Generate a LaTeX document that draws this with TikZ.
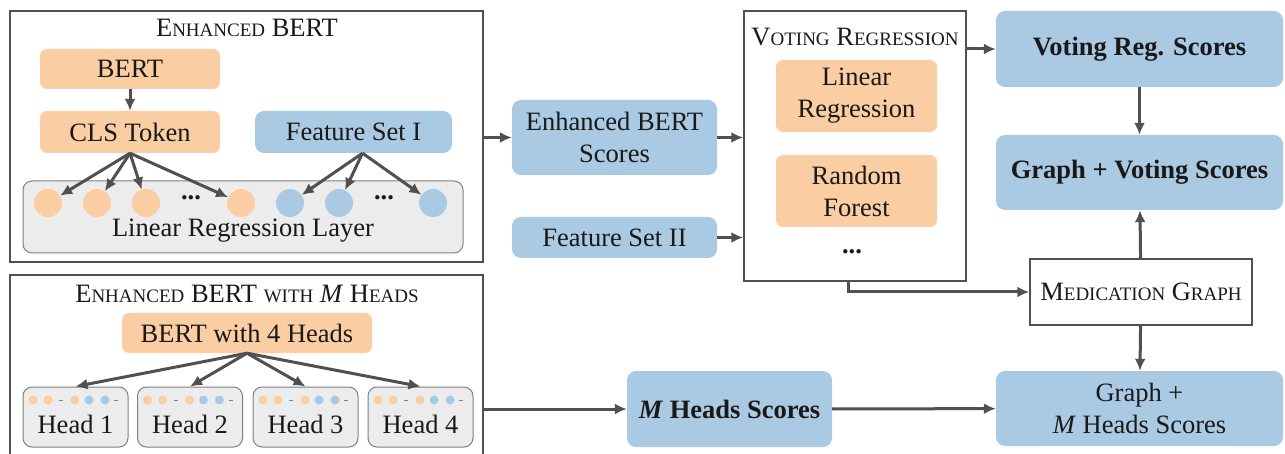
\documentclass[tikz,border=0pt]{standalone}
\usepackage{fontspec}
\setmainfont{Liberation Serif}
\usetikzlibrary{arrows,arrows.meta,positioning}
\definecolor{orng}{RGB}{251,205,162}
\definecolor{bleu}{RGB}{170,202,227}
\definecolor{gris}{RGB}{236,236,236}
\definecolor{trait}{RGB}{80,80,80}
\definecolor{encre}{RGB}{25,25,25}
\newcommand\fsc[1]{{\fontsize{19}{19}\selectfont\uppercase{#1}}}

\begin{document}
\begin{tikzpicture}[x=1pt,y=-1pt,font=\fontsize{26.5}{32}\selectfont,text=encre,>={Latex[length=12pt,width=11pt]}]%
        \useasboundingbox (0,0) rectangle (1285,454);%%
        % frames
        \node[draw=trait,line width=1.5pt,minimum width=473,minimum height=251] (eb) at (246.5,136.5) {}; %%
        \draw[trait,line width=1.5pt] (10,454) -- (10,275) -- (483,275) -- (483,454); %%
        \coordinate (mhout) at (483,409); %%
        \node[draw=trait,line width=1.5pt,minimum width=222,minimum height=270] (vr) at (855,146) {}; %%
        \node[draw=trait,line width=1.5pt,minimum width=222,minimum height=66] (mg) at (1141,292) {M\fsc{edication} G\fsc{raph}}; %%
        \node[fill=gris,draw=gray,line width=1pt,rounded corners=9,minimum width=440,minimum height=72] (lrl) at (243,217) {}; %%
        \node (lrltext) at (243,231) {Linear Regression Layer}; %%
        % titles
        \node (ebtitle) at (247,28) {E\fsc{nhanced} BERT}; %%
        \node (mhtitle) at (247,294) {E\fsc{nhanced} BERT \fsc{with} \textit{M} H\fsc{eads}}; %%
        \node (vrtitle) at (855,37) {V\fsc{oting} R\fsc{egression}}; %%
        \node (vrdots) at (852,252) {\textbf{...}}; %%
        \begin{scope}[rounded corners=7,inner sep=0,align=center]
        \tikzstyle{every node}=[fill=orng] %%
        \node[minimum width=180,minimum height=40] (bert) at (130,69)  {BERT}; %%
        \node[minimum width=180,minimum height=42] (cls) at (130,132)  {CLS Token}; %%
        \node[minimum width=161,minimum height=72] (linreg) at (856.5,96)  {Linear\\Regression}; %%
        \node[minimum width=161,minimum height=72] (rforest) at (856.5,191)  {Random\\Forest}; %%
        \node[minimum width=250,minimum height=40] (bert4) at (247,333)  {BERT with 4 Heads}; %%
        \end{scope}
        \begin{scope}[rounded corners=9,inner sep=0,align=center]
        \tikzstyle{every node}=[fill=bleu] %%
        \node[minimum width=197,minimum height=42] (fs1) at (353.5,132)  {Feature Set I}; %%
        \node[minimum width=205,minimum height=75] (ebs) at (614.5,137.5)  {Enhanced BERT\\Scores}; %%
        \node[minimum width=205,minimum height=41] (fs2) at (614.5,237.5)  {Feature Set II}; %%
        \node[minimum width=205,minimum height=76,font=\fontsize{26.5}{32}\selectfont\bfseries] (mhs) at (729.5,409)  {\textit{M} Heads Scores}; %%
        \node[minimum width=287,minimum height=76,font=\fontsize{26.5}{32}\selectfont\bfseries] (vrs) at (1139.5,49)  {Voting Reg. Scores}; %%
        \node[minimum width=287,minimum height=75,font=\fontsize{26.5}{32}\selectfont\bfseries] (gvs) at (1139.5,172.5)  {Graph + Voting Scores}; %%
        \node[minimum width=287,minimum height=75] (gmh) at (1139.5,408.5)  {Graph +\\\textit{M} Heads Scores}; %%
        \end{scope}
        % regression layer units
        \begin{scope}[shape=circle,inner sep=0,minimum size=28]
        \node[fill=orng] (c1) at (48,203) {}; %%
        \node[fill=orng] (c2) at (97,203) {}; %%
        \node[fill=orng] (c3) at (146,203) {}; %%
        \node[fill=orng] (c4) at (241,203) {}; %%
        \node[fill=bleu] (d1) at (290,203) {}; %%
        \node[fill=bleu] (d2) at (339,203) {}; %%
        \node[fill=bleu] (d3) at (433,203) {}; %%
        \end{scope}
        \node (cdots) at (191,198) {\textbf{...}}; %%
        \node (ddots) at (384,198) {\textbf{...}}; %%
        % heads
        \begin{scope}
        \tikzstyle{every node}=[fill=gris,draw=gray,line width=1pt,rounded corners=9,minimum width=105,minimum height=60] %%
        \node (h1) at (75.5,417) {}; %%
        \node (h2) at (190,417) {}; %%
        \node (h3) at (305.5,417) {}; %%
        \node (h4) at (420.5,417) {}; %%
        \end{scope}
        \node at ([yshift=-7pt]h1.center) {Head 1}; %%
        \node at ([yshift=-7pt]h2.center) {Head 2}; %%
        \node at ([yshift=-7pt]h3.center) {Head 3}; %%
        \node at ([yshift=-7pt]h4.center) {Head 4}; %%
        \foreach \hx in {75.5,190,305.5,420.5} {%
          \fill[orng] (\hx-42.5,400) circle (4.5) (\hx-27.5,400) circle (4.5) (\hx-0.5,400) circle (4.5); %%
          \fill[bleu] (\hx+13.5,400) circle (4.5) (\hx+29.5,400) circle (4.5); %%
          \draw[gray,line width=1pt] (\hx-16.5,400) -- (\hx-12.5,400) (\hx+38.5,400) -- (\hx+42.5,400); %%
        }
\begin{scope}[line width=3pt,trait]
\draw[->] (bert)--(cls);  %%
\draw[->] (cls.south)--(c1);  %%
\draw[->] (cls.south)--(c2);  %%
\draw[->] (cls.south)--(c3);  %%
\draw[->] (cls.south)--(c4);  %%
\draw[->] ([xshift=9pt]fs1.south)--(d1);  %%
\draw[->] ([xshift=9pt]fs1.south)--(d2);  %%
\draw[->] ([xshift=9pt]fs1.south)--(d3);  %%
\draw[->] (bert4.south)--(h1.north);  %%
\draw[->] (bert4.south)--(h2.north);  %%
\draw[->] (bert4.south)--(h3.north);  %%
\draw[->] (bert4.south)--(h4.north);  %%
\draw[->] (eb.east |- ebs)--(ebs);  %%
\draw[->] (ebs)--(vr.west |- ebs);  %%
\draw[->] (fs2)--(vr.west |- fs2);  %%
\draw[->] (vr.east |- vrs)--(vrs);  %%
\draw[->] (vrs)--(gvs);  %%
\draw[->] (mg)--(gvs);  %%
\draw[->] (mg)--(gmh);  %%
\draw[->] ([xshift=-7pt]vr.south) |- (mg);  %%
\draw[->] (mhout)--(mhs);  %%
\draw[->] (mhs)--(gmh);  %%
\end{scope}
\end{tikzpicture}
\end{document}
